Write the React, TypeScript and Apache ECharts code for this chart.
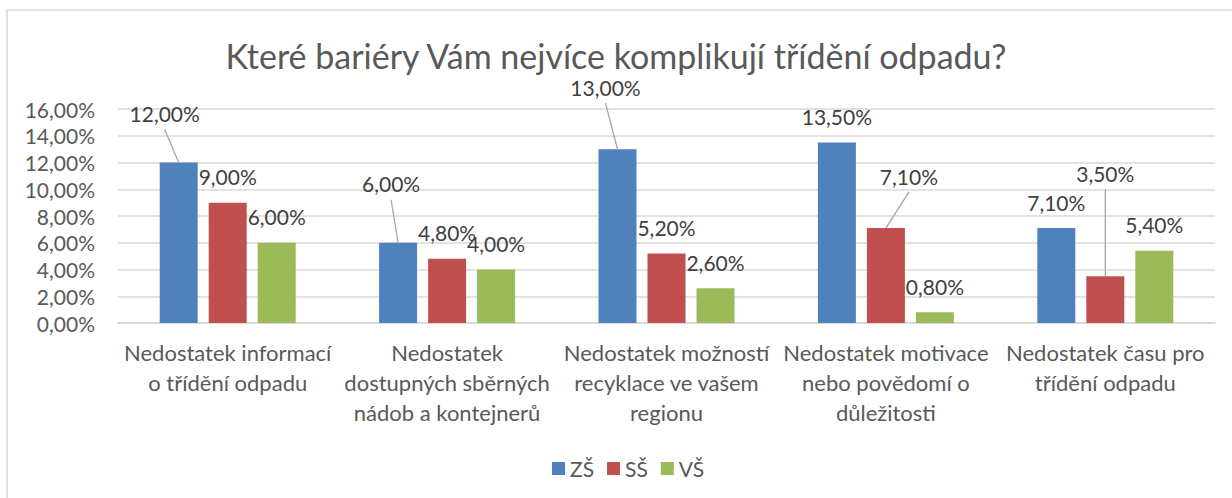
import React, { useEffect, useRef } from "react";
import * as echarts from "echarts";

const TITLE = "Které bariéry Vám nejvíce komplikují třídění odpadu?";
const CATEGORIES = [
  "Nedostatek informací\no třídění odpadu",
  "Nedostatek\ndostupných sběrných\nnádob a kontejnerů",
  "Nedostatek možností\nrecyklace ve vašem\nregionu",
  "Nedostatek motivace\nnebo povědomí o\ndůležitosti",
  "Nedostatek času pro\ntřídění odpadu",
];
const SERIES_NAMES = ["ZŠ", "SŠ", "VŠ"];
const ZS = [12.0, 6.0, 13.0, 13.5, 7.1];
const SS = [9.0, 4.8, 5.2, 7.1, 3.5];
const VS = [6.0, 4.0, 2.6, 0.8, 5.4];
const VALUES = [ZS, SS, VS];
const COLORS = ["#4F81BD", "#C0504D", "#9BBB59"];
const Y_MIN = 0;
const Y_MAX = 16;
const Y_STEP = 2;

// label displacement (px) for labels that are moved away with a leader line: [series, category, dx, dy]
const MOVED_LABELS: [number, number, number, number][] = [
  [0, 0, -14, -24],
  [0, 1, -7, -34],
  [0, 2, -12, -37],
  [1, 3, 23, -27],
  [1, 4, 0, -78],
];

const BAR_WIDTH = 38;
const BAR_STEP = 49;
const LABEL_RISE = 26;
const FONT = "Lato, 'Open Sans', sans-serif";

const fmt = (v: number) => v.toFixed(2).replace(".", ",") + "%";

function findMove(s: number, c: number) {
  return MOVED_LABELS.find((m) => m[0] === s && m[1] === c);
}

export default function App() {
  const ref = useRef<HTMLDivElement>(null);
  useEffect(() => {
    document.body.style.margin = "0";
    if (!ref.current) return;
    const chart = echarts.init(ref.current, undefined, { renderer: "svg" });

    const barSeries = SERIES_NAMES.map((name, s) => ({
      name,
      type: "bar",
      barWidth: BAR_WIDTH,
      barGap: ((BAR_STEP - BAR_WIDTH) / BAR_WIDTH) * 100 + "%",
      itemStyle: { color: COLORS[s] },
      data: VALUES[s],
      label: {
        show: true,
        position: "top",
        distance: 14,
        fontFamily: FONT,
        fontSize: 21,
        lineHeight: 22,
        color: "#404040",
        formatter: (p: any) => fmt(p.value),
      },
      labelLayout: (params: any) => {
        const m = findMove(s, params.dataIndex);
        return m ? { dx: m[2], dy: m[3] } : { dy: -1 };
      },
      z: 2,
    }));

    const leaderData = MOVED_LABELS.map((m) => [m[1], VALUES[m[0]][m[1]], m[0], m[2], m[3]]);

    const leaderSeries = {
      type: "custom",
      silent: true,
      z: 3,
      data: leaderData,
      encode: { x: 0, y: 1 },
      renderItem: (params: any, api: any) => {
        const c = api.value(0);
        const v = api.value(1);
        const s = api.value(2);
        const dx = api.value(3);
        const dy = api.value(4);
        const pt = api.coord([c, v]);
        const x0 = pt[0] + (s - 1) * BAR_STEP;
        const y0 = pt[1];
        const lx = x0 + dx;
        const ly = y0 - LABEL_RISE + dy + 17;
        return {
          type: "line",
          shape: { x1: lx, y1: ly, x2: x0, y2: y0 },
          style: { stroke: "#A5A5A5", lineWidth: 1.3 },
        };
      },
    };

    const option: any = {
      animation: false,
      backgroundColor: "#fff",
      textStyle: { fontFamily: FONT },
      title: {
        text: TITLE,
        left: "center",
        top: 38,
        padding: 0,
        textStyle: { fontFamily: FONT, fontSize: 34, lineHeight: 34, fontWeight: "normal", color: "#595959" },
      },
      legend: {
        data: SERIES_NAMES,
        top: 453,
        left: 547,
        icon: "rect",
        itemWidth: 13,
        itemHeight: 13,
        itemGap: 13,
        textStyle: { fontFamily: FONT, fontSize: 21, color: "#595959" },
      },
      grid: { left: 118, right: 17, top: 109, bottom: 175, containLabel: false },
      xAxis: {
        type: "category",
        data: CATEGORIES,
        axisTick: { show: false },
        axisLine: { lineStyle: { color: "#D9D9D9", width: 1.5 } },
        axisLabel: {
          interval: 0,
          margin: 14,
          fontFamily: FONT,
          fontSize: 22,
          lineHeight: 30,
          color: "#595959",
          align: "center",
        },
      },
      yAxis: {
        type: "value",
        min: Y_MIN,
        max: Y_MAX,
        interval: Y_STEP,
        axisLine: { show: false },
        axisTick: { show: false },
        splitLine: { lineStyle: { color: "#D9D9D9", width: 1.5 } },
        axisLabel: {
          margin: 23,
          fontFamily: FONT,
          fontSize: 21,
          color: "#595959",
          formatter: (v: number) => fmt(v),
        },
      },
      graphic: [
        {
          type: "rect",
          shape: { x: 7, y: 10, width: 1260, height: 520 },
          style: { fill: "none", stroke: "#D9D9D9", lineWidth: 1.5 },
          silent: true,
          z: -1,
        },
      ],
      series: [...barSeries, leaderSeries],
    };
    chart.setOption(option);
    return () => chart.dispose();
  }, []);
  return <div ref={ref} style={{ width: 1232, height: 498 }} />;
}
